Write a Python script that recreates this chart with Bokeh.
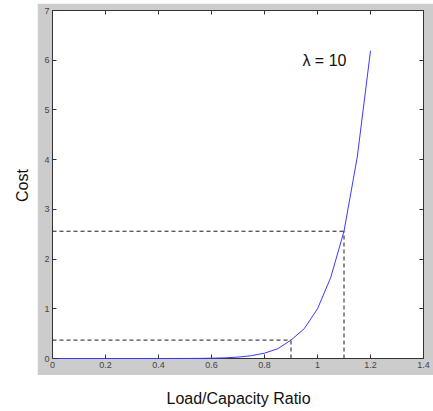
import math
from bokeh.plotting import figure
from bokeh.layouts import column, row
from bokeh.models import Range1d, LinearAxis, FixedTicker, Label, Spacer
from bokeh.core.properties import value
from bokeh.embed import file_html
from bokeh.resources import INLINE

# ---- data ----
load = [0.02, 0.1, 0.2, 0.3, 0.4, 0.5, 0.55, 0.6, 0.65, 0.7, 0.75, 0.8,
        0.85, 0.9, 0.95, 1.0, 1.05, 1.1, 1.15, 1.2]
cost = [0.0, 0.0, 0.0, 0.0, 0.0001, 0.001, 0.0025, 0.006, 0.013, 0.028,
        0.056, 0.107, 0.197, 0.37, 0.6, 1.0, 1.63, 2.56, 4.05, 6.19]
guide_load = [0.9, 1.1]
guide_cost = [0.37, 2.56]
x_ticks = [0, 0.2, 0.4, 0.6, 0.8, 1, 1.2, 1.4]
x_tick_labels = ["0", "0.2", "0.4", "0.6", "0.8", "1", "1.2", "1.4"]
y_ticks = [0, 1, 2, 3, 4, 5, 6, 7]
y_tick_labels = ["0", "1", "2", "3", "4", "5", "6", "7"]
annotation_text = "λ = 10"
x_title = "Load/Capacity Ratio"
y_title = "Cost"

FONT = "Liberation Sans"
AX = "#333333"
LAB = "#444444"
PANEL = "#cccccc"

# ---- main panel (gray MATLAB-style figure area) ----
p = figure(width=396, height=372, output_backend="svg", toolbar_location=None,
           x_range=Range1d(0, 1.4), y_range=Range1d(0, 7),
           min_border_left=15, min_border_right=10, min_border_top=7,
           min_border_bottom=17, border_fill_color=PANEL,
           background_fill_color="white", outline_line_color=AX)
p.grid.visible = False


def style_axis(ax, ticks, labels, show):
    ax.ticker = FixedTicker(ticks=ticks)
    ax.major_tick_in = 4
    ax.major_tick_out = 0
    ax.minor_tick_line_color = None
    ax.axis_line_color = AX
    ax.major_tick_line_color = AX
    ax.major_label_text_font = FONT
    ax.major_label_text_color = LAB
    if show:
        ax.major_label_overrides = {t: l for t, l in zip(ticks, labels)}
        ax.major_label_text_font_size = "9px"
        ax.major_label_standoff = 3
    else:
        ax.major_label_overrides = {t: "" for t in ticks}
        ax.major_label_text_font_size = "0px"
        ax.major_label_standoff = 0


style_axis(p.xaxis[0], x_ticks, x_tick_labels, True)
style_axis(p.yaxis[0], y_ticks, y_tick_labels, True)
p.yaxis[0].major_label_standoff = 3

top_ax = LinearAxis()
style_axis(top_ax, x_ticks, x_tick_labels, False)
p.add_layout(top_ax, "above")
right_ax = LinearAxis()
style_axis(right_ax, y_ticks, y_tick_labels, False)
p.add_layout(right_ax, "right")

# dashed guide lines
p.segment(x0=[0, 0], y0=guide_cost, x1=guide_load, y1=guide_cost,
          line_color="#1a1a1a", line_dash="4 3", line_width=1)
p.segment(x0=guide_load, y0=[0, 0], x1=guide_load, y1=guide_cost,
          line_color="#1a1a1a", line_dash="4 3", line_width=1)

# curve (drawn above the axis line, as in the reference)
p.line(load, cost, line_color="#3a3aff", line_width=1, level="overlay")

p.add_layout(Label(x=0.943, y=5.99, text=annotation_text, text_font=FONT,
                   text_font_size="16px", text_color="#111111",
                   text_align="left", text_baseline="middle"))

# ---- left strip with the y title (shares the y range) ----
left = figure(width=37, height=372, output_backend="svg", toolbar_location=None,
              x_range=Range1d(0, 1), y_range=p.y_range,
              x_axis_type=None, y_axis_type=None,
              min_border_left=0, min_border_right=0, min_border_top=7,
              min_border_bottom=17, outline_line_color=None,
              border_fill_color="white", background_fill_color="white")
left.text(x=[0.6], y=[3.48], text=[y_title], angle=math.pi / 2,
          text_font=value(FONT), text_font_size="16px", text_color="#111111",
          text_align="center", text_baseline="middle")

# ---- bottom strip with the x title (shares the x range) ----
bottom = figure(width=433, height=36, output_backend="svg", toolbar_location=None,
                x_range=p.x_range, y_range=Range1d(0, 1),
                x_axis_type=None, y_axis_type=None,
                min_border_left=52, min_border_right=10, min_border_top=0,
                min_border_bottom=0, outline_line_color=None,
                border_fill_color="white", background_fill_color="white")
bottom.text(x=[0.702], y=[0.36], text=[x_title],
            text_font=value(FONT), text_font_size="16px", text_color="#111111",
            text_align="center", text_baseline="middle")

layout = column(Spacer(width=433, height=3), row(left, p), bottom)

open("out.html", "w").write(file_html(layout, INLINE))
